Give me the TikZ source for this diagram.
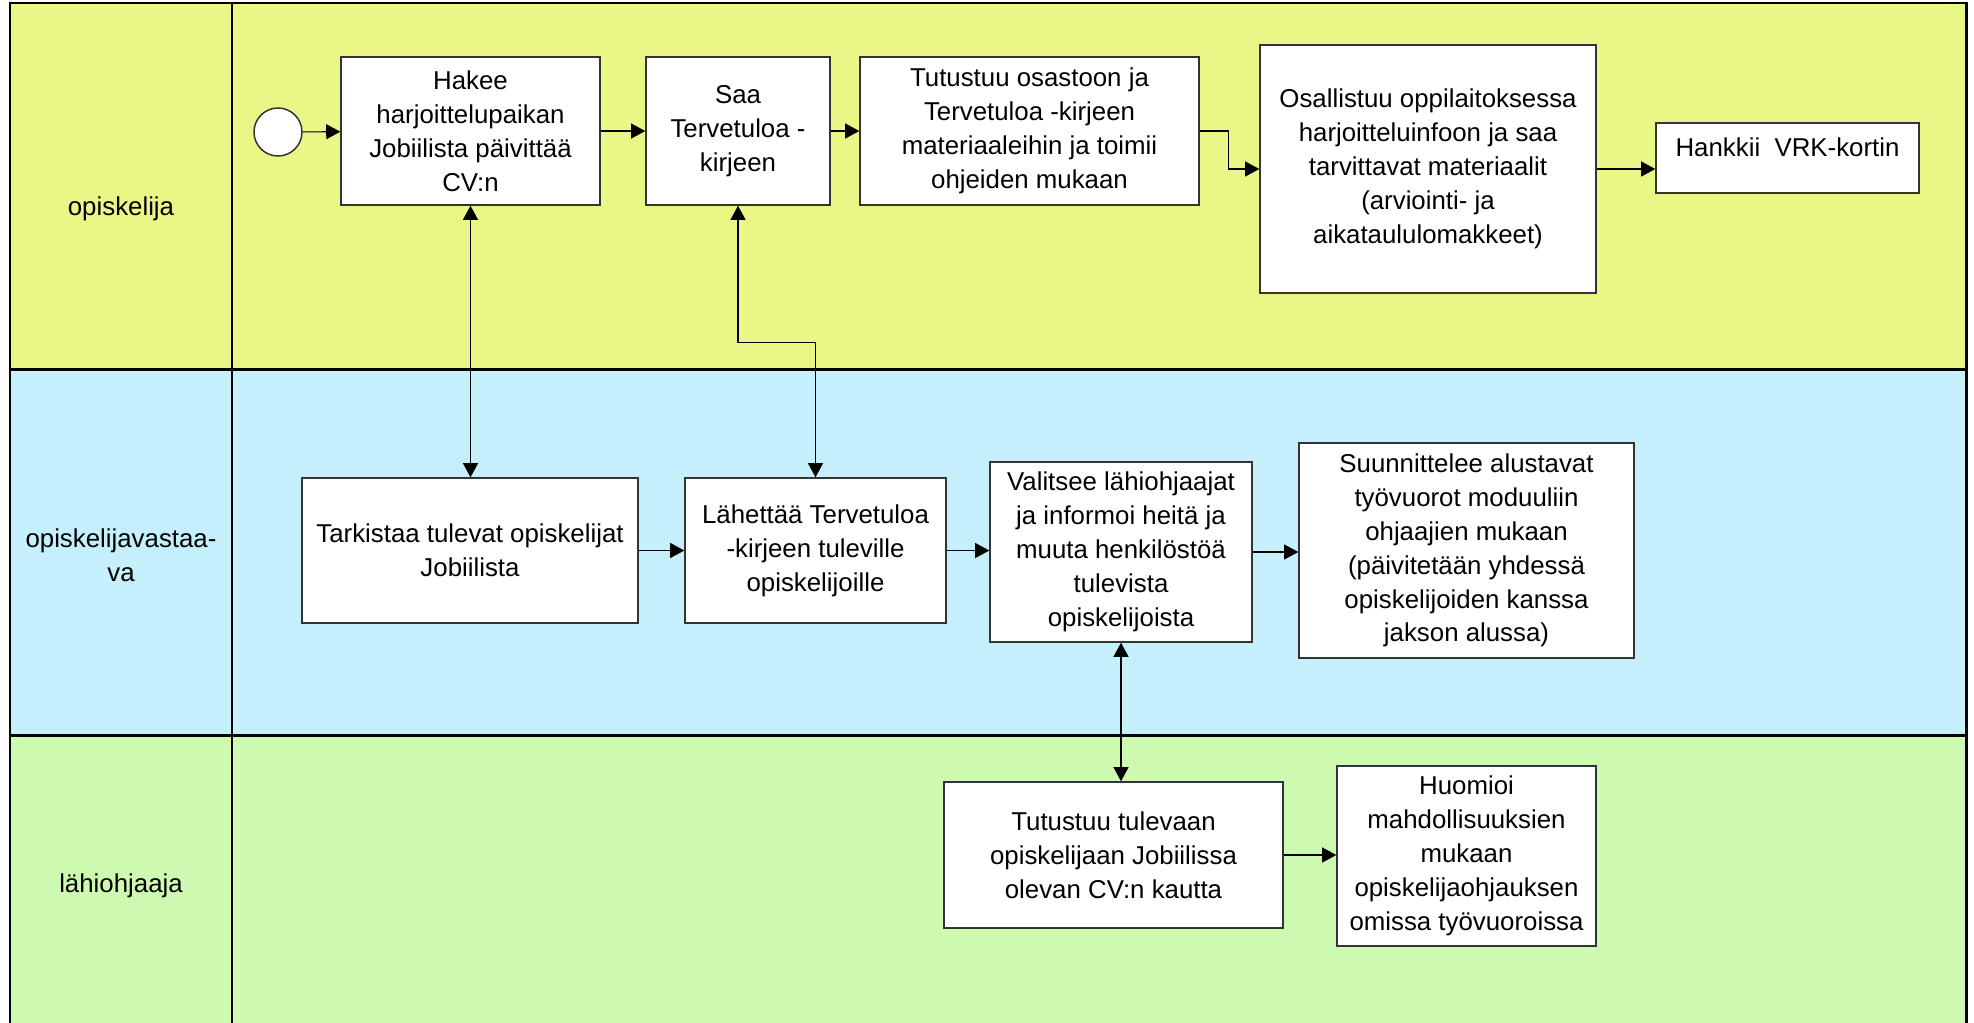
\documentclass[tikz,border=0pt]{standalone}
\usepackage{fontspec}
\setmainfont{Liberation Sans}
\usepackage{tikz}
\usetikzlibrary{arrows.meta}
\definecolor{laneyellow}{RGB}{234,247,134}
\definecolor{laneblue}{RGB}{196,239,251}
\definecolor{lanegreen}{RGB}{206,249,176}
\tikzset{
  task/.style={
    align=center,
    draw=black!80,
    fill=white,
    line width=0.85pt,
    inner sep=0pt,
    font=\fontsize{14.7}{19.3}\selectfont
  },
  startev/.style={
    circle,
    draw=black!80,
    fill=white,
    line width=0.85pt,
    minimum size=0.96cm,
    inner sep=0pt
  },
  lanelabel/.style={
    align=center,
    font=\fontsize{14.7}{19.3}\selectfont
  },
  laneline/.style={draw=black, line width=1.7pt},
  arrow/.style={draw,line width=0.6pt,->,>={Triangle[length=8pt,width=8.5pt]}}
}

\begin{document}
\begin{tikzpicture}[x=0.02cm, y=-0.02cm, every edge/.style={arrow}]
  \clip (0,0) rectangle (1974,1022);
  % lanes
  \fill[laneyellow] (10,3) rectangle (1966,369);
  \fill[laneblue] (10,369) rectangle (1966,735);
  \fill[lanegreen] (10,735) rectangle (1966,1040);
  \draw[laneline] (10,1040) -- (10,3) -- (1966,3) -- (1966,1040);
  \draw[laneline] (10,369) -- (1966,369);
  \draw[laneline] (10,735) -- (1966,735);
  \draw[laneline] (232,3) -- (232,1040);
  \node (opiskelija) [lanelabel] at (121,209) {opiskelija};
  \node (vastaava) [lanelabel] at (121,555) {opiskelijavastaa-\\va};
  \node (lahiohjaaja) [lanelabel] at (121,886) {lähiohjaaja};

  % opiskelija
  \node (start) [startev] at (278,132) {};
  \node (hakee) [task, minimum width=5.18cm, minimum height=2.96cm] at (470.5,131)
    {Hakee\\harjoittelupaikan\\Jobiilista päivittää\\CV:n};
  \node (saa) [task, minimum width=3.68cm, minimum height=2.96cm] at (738,131)
    {Saa\\Tervetuloa -\\kirjeen};
  \node (tutustuu) [task, minimum width=6.78cm, minimum height=2.96cm] at (1029.5,131)
    {Tutustuu osastoon ja\\Tervetuloa -kirjeen\\materiaaleihin ja toimii\\ohjeiden mukaan};
  \node (osallistuu) [task, minimum width=6.72cm, minimum height=4.96cm] at (1428,169)
    {Osallistuu oppilaitoksessa\\harjoitteluinfoon ja saa\\tarvittavat materiaalit\\(arviointi- ja\\aikataululomakkeet)};
  \node (hankkii) [task, minimum width=5.26cm, minimum height=1.4cm, text height=11pt, text depth=13pt] at (1787.5,158)
    {Hankkii~~VRK-kortin};

  % opiskelijavastaava
  \node (tarkistaa) [task, minimum width=6.72cm, minimum height=2.9cm] at (470,550.5)
    {Tarkistaa tulevat opiskelijat\\Jobiilista};
  \node (lahettaa) [task, minimum width=5.22cm, minimum height=2.9cm] at (815.5,550.5)
    {Lähettää Tervetuloa\\-kirjeen tuleville\\opiskelijoille};
  \node (valitsee) [task, minimum width=5.24cm, minimum height=3.6cm] at (1121,552)
    {Valitsee lähiohjaajat\\ja informoi heitä ja\\muuta henkilöstöä\\tulevista\\opiskelijoista};
  \node (suunnittelee) [task, minimum width=6.7cm, minimum height=4.3cm] at (1466.5,550.5)
    {Suunnittelee alustavat\\työvuorot moduuliin\\ohjaajien mukaan\\(päivitetään yhdessä\\opiskelijoiden kanssa\\jakson alussa)};

  % lahiohjaaja
  \node (tulevaan) [task, minimum width=6.78cm, minimum height=2.92cm] at (1113.5,855)
    {Tutustuu tulevaan\\opiskelijaan Jobiilissa\\olevan CV:n kautta};
  \node (huomioi) [task, minimum width=5.18cm, minimum height=3.6cm] at (1466.5,856)
    {Huomioi\\mahdollisuuksien\\mukaan\\opiskelijaohjauksen\\omissa työvuoroissa};

  \path
  (start) edge (hakee)
  (hakee) edge (saa)
  (saa) edge (tutustuu)
  (osallistuu.east) edge (osallistuu.east -| hankkii.west)
  (hakee.south) edge[<->] (hakee.south |- tarkistaa.north)
  (tarkistaa) edge (lahettaa)
  (lahettaa.east) edge (lahettaa.east -| valitsee.west)
  (valitsee.east) edge (valitsee.east -| suunnittelee.west)
  (valitsee.south) edge[<->] (valitsee.south |- tulevaan.north)
  (tulevaan.east) edge (tulevaan.east -| huomioi.west)
  ;
  \draw[arrow] (tutustuu.east) -- +(29,0) |- (osallistuu.west);
  \draw[arrow, <->] (saa.south) -- +(0,137) -| (lahettaa.north);
\end{tikzpicture}
\end{document}
